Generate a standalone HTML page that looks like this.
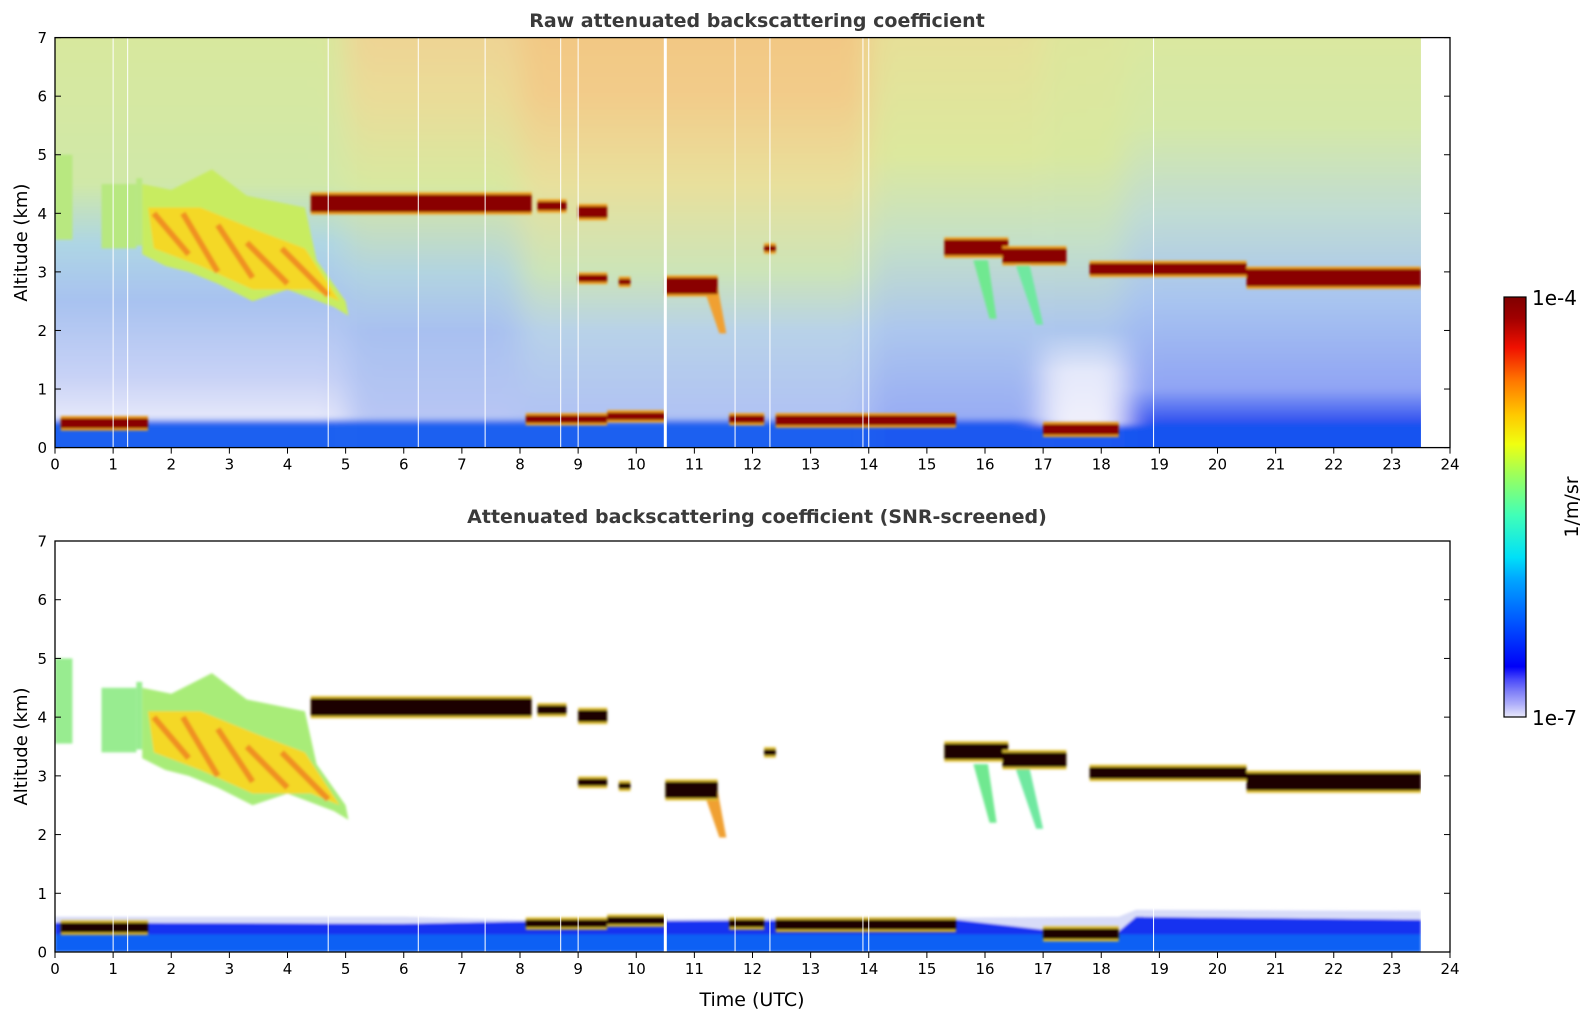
<!DOCTYPE html>
<html><head><meta charset="utf-8"><style>
body{margin:0;background:#fff;width:1595px;height:1020px;overflow:hidden}
text{font-family:"DejaVu Sans","Liberation Sans",sans-serif}
</style></head><body>
<svg id="fig" width="1595" height="1020" viewBox="0 0 1595 1020" xmlns="http://www.w3.org/2000/svg">
<defs>
<filter id="hblur" x="-5%" y="-5%" width="110%" height="110%"><feGaussianBlur stdDeviation="14 3"/></filter>
<filter id="sblur"><feGaussianBlur stdDeviation="1.2"/></filter>
<clipPath id="clipTop"><rect x="55" y="38" width="1366" height="410"/></clipPath>
<clipPath id="clipBot"><rect x="55" y="541" width="1366" height="411"/></clipPath>
<linearGradient id="cbar" x1="0" y1="1" x2="0" y2="0">
<stop offset="0" stop-color="#e8e8fa"/><stop offset="0.03" stop-color="#b0b0fa"/><stop offset="0.06" stop-color="#8080f8"/><stop offset="0.09" stop-color="#4848fa"/><stop offset="0.12" stop-color="#0000f8"/><stop offset="0.22" stop-color="#0050ff"/><stop offset="0.33" stop-color="#00a8ff"/><stop offset="0.38" stop-color="#00e0f8"/><stop offset="0.48" stop-color="#40ffb8"/><stop offset="0.58" stop-color="#a0ff58"/><stop offset="0.65" stop-color="#f0ff10"/><stop offset="0.72" stop-color="#ffc800"/><stop offset="0.8" stop-color="#ff7800"/><stop offset="0.88" stop-color="#f01000"/><stop offset="0.95" stop-color="#a00000"/><stop offset="1" stop-color="#800000"/>
</linearGradient>
</defs>
</svg>
<script>
// ---- data ----
const xTicks=[0,1,2,3,4,5,6,7,8,9,10,11,12,13,14,15,16,17,18,19,20,21,22,23,24];
const yTicks=[0,1,2,3,4,5,6,7];
const dataEnd=23.5;
const gapTimes=[1.0,1.25,4.7,6.25,7.4,8.7,9.0,10.5,11.7,12.3,13.9,14.0,18.9];
const gapWidths=[1,1,1,1,1,1,1,3,1,1,1,1,1];
// background segments [t0,t1] with altitude/colour stops (raw panel)
const bgSegT=[[-1,5],[5,8],[8,14],[14,17],[17,18.4],[18.4,24.5]];
const bgSegStops=[
 [[0,"#1a60f0"],[0.42,"#1a60f0"],[0.5,"#e6e8fa"],[1.2,"#c8d2f6"],[2.5,"#a8c2f0"],[3.5,"#aed6e4"],[4.5,"#d0e8a8"],[7,"#d8e89e"]],
 [[0,"#1a60f0"],[0.42,"#1a60f0"],[0.5,"#b8c6f4"],[2,"#a8c0f0"],[3,"#b2d4e0"],[4.5,"#d8e8a0"],[6,"#eadc98"],[7,"#eed494"]],
 [[0,"#1a60f0"],[0.42,"#1a60f0"],[0.5,"#b0c2f4"],[2,"#b8d2e8"],[3,"#cce4b8"],[4.5,"#e8e09c"],[6,"#f2cc8a"],[7,"#f2c884"]],
 [[0,"#1a58f0"],[0.42,"#1a58f0"],[0.5,"#98acf4"],[2,"#acc6ee"],[3.5,"#c4e0c8"],[5,"#dce89e"],[7,"#e6e098"]],
 [[0,"#1a58f0"],[0.35,"#1a58f0"],[0.4,"#f0f0fc"],[1.3,"#e4e8fa"],[2,"#acc6ee"],[3.5,"#c4e0c8"],[5,"#d8e8a0"],[7,"#dee69c"]],
 [[0,"#1252f0"],[0.38,"#1252f0"],[0.45,"#3454f0"],[1,"#90a4f4"],[2.5,"#a8c4f0"],[4,"#c0dcd4"],[5.5,"#d4e8a8"],[7,"#dae8a0"]]
];
// cirrus outline (time, km)
const cirrusOuter=[[1.5,4.5],[2.0,4.4],[2.7,4.75],[3.3,4.3],[4.3,4.1],[4.5,3.2],[5.0,2.5],[5.05,2.25],[4.8,2.4],[4.0,2.7],[3.4,2.5],[2.8,2.8],[2.3,3.0],[1.9,3.1],[1.5,3.3]];
const cirrusInner=[[1.6,4.1],[2.5,4.1],[3.5,3.7],[4.3,3.4],[4.9,2.5],[4.4,2.7],[3.4,2.7],[2.5,3.1],[1.7,3.4]];
const streaks=[[1.7,4.0,2.3,3.3],[2.2,4.0,2.8,3.0],[2.8,3.8,3.4,2.9],[3.3,3.5,4.0,2.8],[3.9,3.4,4.7,2.6]];
const smallCloud=[[0,3.55,0.3,5.0],[0.8,3.4,1.4,4.5],[1.4,3.45,1.5,4.6]];
// thick cloud layers: t0,t1,base,top
const layerT0=[4.4,8.3,9.0,9.0,9.7,10.5,12.2,15.3,16.3,17.8,20.5,0.1,8.1,9.5,11.6,12.4,17.0];
const layerT1=[8.2,8.8,9.5,9.5,9.9,11.4,12.4,16.4,17.4,20.5,23.5,1.6,9.5,10.5,12.2,15.5,18.3];
const layerBase=[4.02,4.05,3.92,2.83,2.78,2.62,3.35,3.28,3.15,2.95,2.75,0.33,0.42,0.47,0.42,0.38,0.22];
const layerTop=[4.32,4.2,4.12,2.95,2.88,2.9,3.45,3.55,3.4,3.15,3.05,0.5,0.55,0.6,0.55,0.55,0.4];
const fallT=[[11.15,2.75,11.55,1.95],[15.8,3.2,16.2,2.2],[16.5,3.2,17.0,2.1]];
const fallColor=["#f0a030","#70e890","#70e8a0"];

// ---- axes ----
const svg=document.getElementById('fig');
const NS="http://www.w3.org/2000/svg";
const X0=55,X1=1450;
function xs(t){return X0+t*(X1-X0)/24;}
const panels=[{y0:447.6,y1:37.6,clip:"clipTop",raw:true,title:"Raw attenuated backscattering coefficient",ty:27},
              {y0:952,y1:541,clip:"clipBot",raw:false,title:"Attenuated backscattering coefficient (SNR-screened)",ty:523}];
function mk(tag,attrs,parent){const e=document.createElementNS(NS,tag);for(const k in attrs)e.setAttribute(k,attrs[k]);(parent||svg).appendChild(e);return e;}
function poly(pts,ys){return pts.map(p=>xs(p[0]).toFixed(1)+","+ys(p[1]).toFixed(1)).join(" ");}

panels.forEach((P,pi)=>{
 const ys=a=>P.y0-a*(P.y0-P.y1)/7;
 const g=mk('g',{'clip-path':'url(#'+P.clip+')'});
 
 
 if(P.raw){
  const bg=mk('g',{filter:'url(#hblur)'},g);
  bgSegT.forEach((s,i)=>{
   const id='bgg'+i;
   const lg=mk('linearGradient',{id:id,gradientUnits:'userSpaceOnUse',x1:0,y1:ys(0),x2:0,y2:ys(7)},svg.querySelector('defs'));
   bgSegStops[i].forEach(st=>mk('stop',{offset:st[0]/7,'stop-color':st[1]},lg));
   const r=mk('rect',{x:xs(s[0]),y:ys(7.3),width:xs(s[1])-xs(s[0]),height:ys(-0.3)-ys(7.3),fill:'url(#'+id+')'},bg);
   
   
  });
  mk('rect',{x:xs(dataEnd),y:ys(7.5),width:xs(24)-xs(dataEnd)+2,height:ys(-0.5)-ys(7.5),fill:'#fff'},g);
 } else {
  // boundary layer blue
  const bl=mk('g',{filter:'url(#sblur)'},g);
  mk('polygon',{points:poly([[0,0],[0,0.6],[6,0.6],[8,0.55],[18.3,0.6],[18.6,0.72],[23.5,0.7],[23.5,0]],ys),fill:'#d8dcf8'},bl);
  mk('polygon',{points:poly([[0,0],[0,0.5],[6,0.48],[8,0.52],[15.5,0.55],[17,0.38],[18.3,0.35],[18.6,0.6],[23.5,0.55],[23.5,0]],ys),fill:'#1830f0'},bl);
  mk('rect',{x:xs(0),y:ys(0.3),width:xs(23.5)-xs(0),height:ys(0)-ys(0.3),fill:'#1060f4'},bl);
 }
 const cg=mk('g',{filter:'url(#sblur)'},g);
 
 
 smallCloud.forEach(c=>{const r=mk('rect',{x:xs(c[0]),y:ys(c[3]),width:xs(c[2])-xs(c[0]),height:ys(c[1])-ys(c[3]),fill:P.raw?'#b8e880':'#98ec90'},cg);});
 mk('polygon',{points:poly(cirrusOuter,ys),fill:P.raw?'#c8ec60':'#a8ec78'},cg);
 mk('polygon',{points:poly(cirrusInner,ys),fill:'#f4d828'},cg);
 streaks.forEach(s=>mk('line',{x1:xs(s[0]),y1:ys(s[1]),x2:xs(s[2]),y2:ys(s[3]),stroke:'#f09020','stroke-width':6},cg));
 fallT.forEach((f,i)=>mk('polygon',{points:poly([[f[0],f[1]],[f[0]+0.25,f[1]],[f[2],f[3]],[f[2]-0.12,f[3]]],ys),fill:fallColor[i]},cg));
 layerT0.forEach((t0,i)=>{
  const r=mk('rect',{x:xs(t0),y:ys(layerTop[i]+0.04),width:xs(layerT1[i])-xs(t0),height:ys(layerBase[i]-0.04)-ys(layerTop[i]+0.04),fill:P.raw?'#f0a020':'#e0c030'},cg);
  
  
  const c=mk('rect',{x:xs(t0),y:ys(layerTop[i]),width:xs(layerT1[i])-xs(t0),height:ys(layerBase[i])-ys(layerTop[i]),fill:P.raw?'#8a0000':'#1a0000'},cg);
  
  
 });
 gapTimes.forEach((t,i)=>mk('rect',{x:xs(t)-gapWidths[i]/2,y:P.raw?ys(7):ys(0.75),width:gapWidths[i],height:P.raw?ys(0)-ys(7):ys(0)-ys(0.75),fill:'#fff'},g));
 // frame
 const fr=mk('rect',{x:X0,y:P.y1,width:X1-X0,height:P.y0-P.y1,fill:'none',stroke:'#000','stroke-width':1.3});
 
 
 xTicks.forEach(t=>{
  mk('line',{x1:xs(t),y1:P.y0,x2:xs(t),y2:P.y0+6,stroke:'#000','stroke-width':1});
  const tx=mk('text',{x:xs(t),y:P.y0+22,'font-size':15,'text-anchor':'middle'});tx.textContent=t;
  
  
 });
 yTicks.forEach(a=>{
  mk('line',{x1:X0,y1:ys(a),x2:X0+6,y2:ys(a),stroke:'#000','stroke-width':1});
  mk('line',{x1:X1-6,y1:ys(a),x2:X1,y2:ys(a),stroke:'#000','stroke-width':1});
  const tx=mk('text',{x:X0-8,y:ys(a)+5.5,'font-size':15,'text-anchor':'end'});tx.textContent=a;
  
  
 });
 const yl=mk('text',{x:0,y:0,'font-size':18,'text-anchor':'middle',transform:'translate(27,'+((P.y0+P.y1)/2)+') rotate(-90)'});
 yl.textContent='Altitude (km)';
 
 
 const tt=mk('text',{x:757,y:P.ty,'font-size':19,'font-weight':'bold','text-anchor':'middle',fill:'#3a3a3a'});
 tt.textContent=P.title;
 
 
});
const xl=mk('text',{x:752,y:1006,'font-size':19,'text-anchor':'middle'});xl.textContent='Time (UTC)';


// colorbar
const cb=mk('rect',{x:1504,y:297,width:22,height:420,fill:'url(#cbar)',stroke:'#000','stroke-width':1.2});


const c1=mk('text',{x:1532,y:305,'font-size':20});c1.textContent='1e-4';


const c2=mk('text',{x:1532,y:725,'font-size':20});c2.textContent='1e-7';


const cu=mk('text',{x:0,y:0,'font-size':19,'text-anchor':'middle',transform:'translate(1578,507) rotate(-90)'});cu.textContent='1/m/sr';


</script>
</body></html>
